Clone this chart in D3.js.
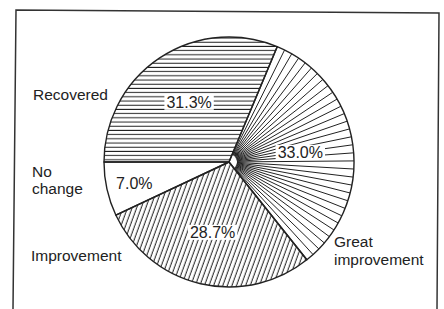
<!DOCTYPE html>
<html>
<head>
<meta charset="utf-8">
<script src="https://cdn.jsdelivr.net/npm/d3@7"></script>
<style>
  body { margin: 0; background: #fff; }
  text { font-family: "Liberation Sans", Arial, sans-serif; fill: #222; }
</style>
</head>
<body>
<svg></svg>
<script>
// data
var categories = ["Recovered", "Great improvement", "Improvement", "No change"];
var values = [31.3, 33.0, 28.7, 7.0];
var valueLabels = ["31.3%", "33.0%", "28.7%", "7.0%"];

var width = 444, height = 309;
var cx = 229, cy = 162, r = 125;
var ink = "#222";

var svg = d3.select("svg")
  .attr("width", width)
  .attr("height", height)
  .style("background", "#fff");

var defs = svg.append("defs");

// horizontal hatching
var ph = defs.append("pattern")
  .attr("id", "hatch-h")
  .attr("patternUnits", "userSpaceOnUse")
  .attr("width", 10).attr("height", 4.2);
ph.append("line")
  .attr("x1", 0).attr("x2", 10).attr("y1", 2).attr("y2", 2)
  .attr("stroke", ink).attr("stroke-width", 1);

// diagonal hatching
var pd = defs.append("pattern")
  .attr("id", "hatch-d")
  .attr("patternUnits", "userSpaceOnUse")
  .attr("width", 4.3).attr("height", 10)
  .attr("patternTransform", "rotate(20)");
pd.append("line")
  .attr("x1", 2).attr("x2", 2).attr("y1", 0).attr("y2", 10)
  .attr("stroke", ink).attr("stroke-width", 1);

//frame
svg.append("path")
  .attr("d", "M13,309 L16,10 L439,13 L437,309")
  .attr("fill", "none")
  .attr("stroke", "#333")
  .attr("stroke-width", 1.5);

var pie = d3.pie().sort(null).startAngle(-Math.PI / 2).endAngle(Math.PI * 1.5);
var arcs = pie(values);
var arc = d3.arc().innerRadius(0).outerRadius(r);

var g = svg.append("g").attr("transform", "translate(" + cx + "," + cy + ")");

var fills = ["url(#hatch-h)", "#fff", "url(#hatch-d)", "#fff"];

g.selectAll("path.slice")
  .data(arcs)
  .enter()
  .append("path")
  .attr("class", "slice")
  .attr("d", arc)
  .attr("fill", function(d, i) { return fills[i]; })
  .attr("stroke", "none");

// radial spokes for "Great improvement"
var gi = arcs[1];
var nSpokes = 32;
var spokes = d3.range(1, nSpokes).map(function(k) {
  return gi.startAngle + (gi.endAngle - gi.startAngle) * k / nSpokes;
});
g.selectAll("line.spoke")
  .data(spokes)
  .enter()
  .append("line")
  .attr("class", "spoke")
  .attr("x1", function(a) { return 8 * Math.sin(a); })
  .attr("y1", function(a) { return -8 * Math.cos(a); })
  .attr("x2", function(a) { return r * Math.sin(a); })
  .attr("y2", function(a) { return -r * Math.cos(a); })
  .attr("stroke", ink)
  .attr("stroke-width", 1);

// slice borders
g.selectAll("path.border")
  .data(arcs)
  .enter()
  .append("path")
  .attr("class", "border")
  .attr("d", arc)
  .attr("fill", "none")
  .attr("stroke", ink)
  .attr("stroke-width", 1.4)
  .attr("stroke-linejoin", "round");

// percentage labels with white boxes
var labelArc = function(d) {
  var rr = d.value < 10 ? 97 : 72;
  var a = (d.startAngle + d.endAngle) / 2;
  return [rr * Math.sin(a), -rr * Math.cos(a)];
};

var pl = g.selectAll("g.pct")
  .data(arcs)
  .enter()
  .append("g")
  .attr("class", "pct")
  .attr("transform", function(d) { return "translate(" + labelArc(d) + ")"; });

pl.append("text")
  .attr("text-anchor", "middle")
  .attr("dy", "0.36em")
  .attr("font-size", 16)
  .text(function(d, i) { return valueLabels[i]; });

pl.each(function() {
  var grp = d3.select(this);
  var b = grp.select("text").node().getBBox();
  grp.insert("rect", "text")
    .attr("x", b.x - 2).attr("y", b.y + 1)
    .attr("width", b.width + 4).attr("height", b.height - 2)
    .attr("fill", "#fff");
});

// category labels
var catPos = {
  "Recovered": [[33, 100]],
  "No change": [[32, 177], [32, 194]],
  "Improvement": [[31, 261]],
  "Great improvement": [[334, 247], [334, 265]]
};
var catLines = {
  "Recovered": ["Recovered"],
  "No change": ["No", "change"],
  "Improvement": ["Improvement"],
  "Great improvement": ["Great", "improvement"]
};

categories.forEach(function(c) {
  catLines[c].forEach(function(line, j) {
    svg.append("text")
      .attr("x", catPos[c][j][0])
      .attr("y", catPos[c][j][1])
      .attr("font-size", 15.5)
      .text(line);
  });
});
</script>
</body>
</html>
